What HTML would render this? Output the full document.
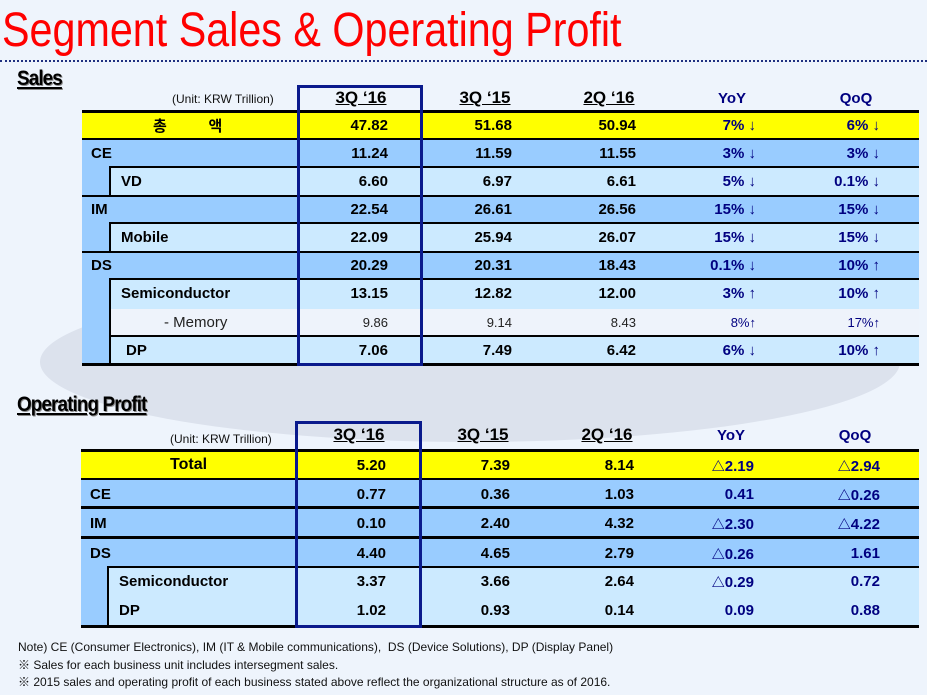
<!DOCTYPE html>
<html><head><meta charset="utf-8">
<style>
*{margin:0;padding:0;box-sizing:border-box}
body{width:927px;height:695px;overflow:hidden;background:#eef4fc;position:relative;font-family:"Liberation Sans","Noto Sans CJK KR",sans-serif}
.a{position:absolute}
.r{position:absolute;display:flex;align-items:center}
.r span{position:absolute;text-align:right;font-weight:bold;font-size:15px;color:#000}
.r .c1{left:290px;width:98px}.r .c2{left:414px;width:98px}.r .c3{left:538px;width:98px}
.r .c4{left:660px;width:96px;color:#000080}.r .c5{left:784px;width:96px;color:#000080}
.r .lb{text-align:left;font-size:15px}
.mem span{font-weight:normal;font-size:13px;color:#222}
.mem .c4,.mem .c5{color:#000080}
.t{font-size:13px}
.hd{position:absolute;font-weight:bold;font-size:17px;text-decoration:underline;text-align:center;width:110px}
.hq{position:absolute;font-weight:bold;font-size:15px;color:#000080;text-align:center;width:110px}
.unit{position:absolute;font-size:12px;color:#111}
.ln{position:absolute;background:#000}
.sec{position:absolute;font-weight:bold;font-size:21px;text-decoration:underline;letter-spacing:-1px;transform:scaleX(0.9);transform-origin:left;text-shadow:1px 1px 0 #888}
.note{position:absolute;left:18px;font-size:12px;color:#111}
</style></head><body>
<svg class="a" style="left:0;top:0" width="927" height="695"><ellipse cx="470" cy="362" rx="430" ry="80" fill="#dce2ed"/></svg>
<div class="a" style="left:2px;top:3px;font-size:48px;color:#ff0000;transform:scaleX(0.86);transform-origin:left;white-space:nowrap">Segment Sales &amp; Operating Profit</div>
<div class="a" style="left:0;top:60px;width:927px;border-top:2px dotted #203080"></div>

<div class="sec" style="left:17px;top:67px">Sales</div>
<div class="unit" style="left:172px;top:92px">(Unit: KRW Trillion)</div>
<div class="hd" style="left:306px;top:88px">3Q ‘16</div>
<div class="hd" style="left:430px;top:88px">3Q ‘15</div>
<div class="hd" style="left:554px;top:88px">2Q ‘16</div>
<div class="hq" style="left:677px;top:90px">YoY</div>
<div class="hq" style="left:801px;top:90px">QoQ</div>

<div class="a" style="left:82px;top:111px;width:837px;height:28px;background:#ffff00"></div>
<div class="a" style="left:82px;top:139px;width:837px;height:226px;background:#99ccff"></div>
<div class="a" style="left:110px;top:167px;width:809px;height:29px;background:#cceaff"></div>
<div class="a" style="left:110px;top:223px;width:809px;height:29px;background:#cceaff"></div>
<div class="a" style="left:110px;top:279px;width:809px;height:30px;background:#cceaff"></div>
<div class="a" style="left:110px;top:309px;width:809px;height:27px;background:#eef3fb"></div>
<div class="a" style="left:110px;top:336px;width:809px;height:28px;background:#cceaff"></div>
<div class="ln" style="left:82px;top:110px;width:837px;height:3px"></div>
<div class="ln" style="left:82px;top:138px;width:837px;height:2px"></div>
<div class="ln" style="left:110px;top:166px;width:809px;height:2px"></div>
<div class="ln" style="left:82px;top:195px;width:837px;height:2px"></div>
<div class="ln" style="left:110px;top:222px;width:809px;height:2px"></div>
<div class="ln" style="left:82px;top:251px;width:837px;height:2px"></div>
<div class="ln" style="left:110px;top:278px;width:809px;height:2px"></div>
<div class="ln" style="left:110px;top:335px;width:809px;height:2px"></div>
<div class="ln" style="left:82px;top:363px;width:837px;height:3px"></div>
<div class="ln" style="left:109px;top:166px;width:2px;height:30px"></div>
<div class="ln" style="left:109px;top:222px;width:2px;height:30px"></div>
<div class="ln" style="left:109px;top:278px;width:2px;height:86px"></div>

<div class="r" style="left:0;top:113px;width:927px;height:25px"><span class="lb" style="left:153px;font-weight:bold">총&nbsp;&nbsp;&nbsp;&nbsp;&nbsp;&nbsp;&nbsp;&nbsp;&nbsp;&nbsp;액</span><span class="c1">47.82</span><span class="c2">51.68</span><span class="c3">50.94</span><span class="c4">7% ↓</span><span class="c5">6% ↓</span></div>
<div class="r" style="left:0;top:140px;width:927px;height:26px"><span class="lb" style="left:91px">CE</span><span class="c1">11.24</span><span class="c2">11.59</span><span class="c3">11.55</span><span class="c4">3% ↓</span><span class="c5">3% ↓</span></div>
<div class="r" style="left:0;top:168px;width:927px;height:27px"><span class="lb" style="left:121px">VD</span><span class="c1">6.60</span><span class="c2">6.97</span><span class="c3">6.61</span><span class="c4">5% ↓</span><span class="c5">0.1% ↓</span></div>
<div class="r" style="left:0;top:197px;width:927px;height:25px"><span class="lb" style="left:91px">IM</span><span class="c1">22.54</span><span class="c2">26.61</span><span class="c3">26.56</span><span class="c4">15% ↓</span><span class="c5">15% ↓</span></div>
<div class="r" style="left:0;top:224px;width:927px;height:27px"><span class="lb" style="left:121px">Mobile</span><span class="c1">22.09</span><span class="c2">25.94</span><span class="c3">26.07</span><span class="c4">15% ↓</span><span class="c5">15% ↓</span></div>
<div class="r" style="left:0;top:253px;width:927px;height:25px"><span class="lb" style="left:91px">DS</span><span class="c1">20.29</span><span class="c2">20.31</span><span class="c3">18.43</span><span class="c4">0.1% ↓</span><span class="c5">10% ↑</span></div>
<div class="r" style="left:0;top:280px;width:927px;height:26px"><span class="lb" style="left:121px">Semiconductor</span><span class="c1">13.15</span><span class="c2">12.82</span><span class="c3">12.00</span><span class="c4">3% ↑</span><span class="c5">10% ↑</span></div>
<div class="r mem" style="left:0;top:309px;width:927px;height:26px"><span class="lb" style="left:164px">- Memory</span><span class="c1">9.86</span><span class="c2">9.14</span><span class="c3">8.43</span><span class="c4">8%↑</span><span class="c5">17%↑</span></div>
<div class="r" style="left:0;top:337px;width:927px;height:26px"><span class="lb" style="left:126px">DP</span><span class="c1">7.06</span><span class="c2">7.49</span><span class="c3">6.42</span><span class="c4">6% ↓</span><span class="c5">10% ↑</span></div>
<div class="a" style="left:297px;top:85px;width:126px;height:281px;border:3px solid #0a1a8c"></div>

<div class="sec" style="left:17px;top:393px">Operating Profit</div>
<div class="unit" style="left:170px;top:432px">(Unit: KRW Trillion)</div>
<div class="hd" style="left:304px;top:425px">3Q ‘16</div>
<div class="hd" style="left:428px;top:425px">3Q ‘15</div>
<div class="hd" style="left:552px;top:425px">2Q ‘16</div>
<div class="hq" style="left:676px;top:427px">YoY</div>
<div class="hq" style="left:800px;top:427px">QoQ</div>

<div class="a" style="left:81px;top:450px;width:838px;height:29px;background:#ffff00"></div>
<div class="a" style="left:81px;top:479px;width:838px;height:148px;background:#99ccff"></div>
<div class="a" style="left:108px;top:567px;width:811px;height:60px;background:#cceaff"></div>
<div class="ln" style="left:81px;top:449px;width:838px;height:3px"></div>
<div class="ln" style="left:81px;top:478px;width:838px;height:2px"></div>
<div class="ln" style="left:81px;top:506px;width:838px;height:3px"></div>
<div class="ln" style="left:81px;top:536px;width:838px;height:3px"></div>
<div class="ln" style="left:108px;top:566px;width:811px;height:2px"></div>
<div class="ln" style="left:81px;top:625px;width:838px;height:3px"></div>
<div class="ln" style="left:107px;top:566px;width:2px;height:61px"></div>

<div class="r" style="left:0;top:452px;width:927px;height:26px"><span class="lb" style="left:170px;font-size:16px">Total</span><span class="c1" style="left:288px">5.20</span><span class="c2" style="left:412px">7.39</span><span class="c3" style="left:536px">8.14</span><span class="c4" style="left:658px"><b class="t">△</b>2.19</span><span class="c5"><b class="t">△</b>2.94</span></div>
<div class="r" style="left:0;top:481px;width:927px;height:26px"><span class="lb" style="left:90px">CE</span><span class="c1" style="left:288px">0.77</span><span class="c2" style="left:412px">0.36</span><span class="c3" style="left:536px">1.03</span><span class="c4" style="left:658px">0.41</span><span class="c5"><b class="t">△</b>0.26</span></div>
<div class="r" style="left:0;top:510px;width:927px;height:27px"><span class="lb" style="left:90px">IM</span><span class="c1" style="left:288px">0.10</span><span class="c2" style="left:412px">2.40</span><span class="c3" style="left:536px">4.32</span><span class="c4" style="left:658px"><b class="t">△</b>2.30</span><span class="c5"><b class="t">△</b>4.22</span></div>
<div class="r" style="left:0;top:540px;width:927px;height:26px"><span class="lb" style="left:90px">DS</span><span class="c1" style="left:288px">4.40</span><span class="c2" style="left:412px">4.65</span><span class="c3" style="left:536px">2.79</span><span class="c4" style="left:658px"><b class="t">△</b>0.26</span><span class="c5">1.61</span></div>
<div class="r" style="left:0;top:568px;width:927px;height:27px"><span class="lb" style="left:119px">Semiconductor</span><span class="c1" style="left:288px">3.37</span><span class="c2" style="left:412px">3.66</span><span class="c3" style="left:536px">2.64</span><span class="c4" style="left:658px"><b class="t">△</b>0.29</span><span class="c5">0.72</span></div>
<div class="r" style="left:0;top:597px;width:927px;height:27px"><span class="lb" style="left:119px">DP</span><span class="c1" style="left:288px">1.02</span><span class="c2" style="left:412px">0.93</span><span class="c3" style="left:536px">0.14</span><span class="c4" style="left:658px">0.09</span><span class="c5">0.88</span></div>
<div class="a" style="left:295px;top:421px;width:127px;height:207px;border:3px solid #0a1a8c"></div>

<div class="note" style="top:640px">Note) CE (Consumer Electronics), IM (IT &amp; Mobile communications),&nbsp; DS (Device Solutions), DP (Display Panel)</div>
<div class="note" style="top:656px">※ Sales for each business unit includes intersegment sales.</div>
<div class="note" style="top:673px">※ 2015 sales and operating profit of each business stated above reflect the organizational structure as of 2016.</div>
</body></html>
